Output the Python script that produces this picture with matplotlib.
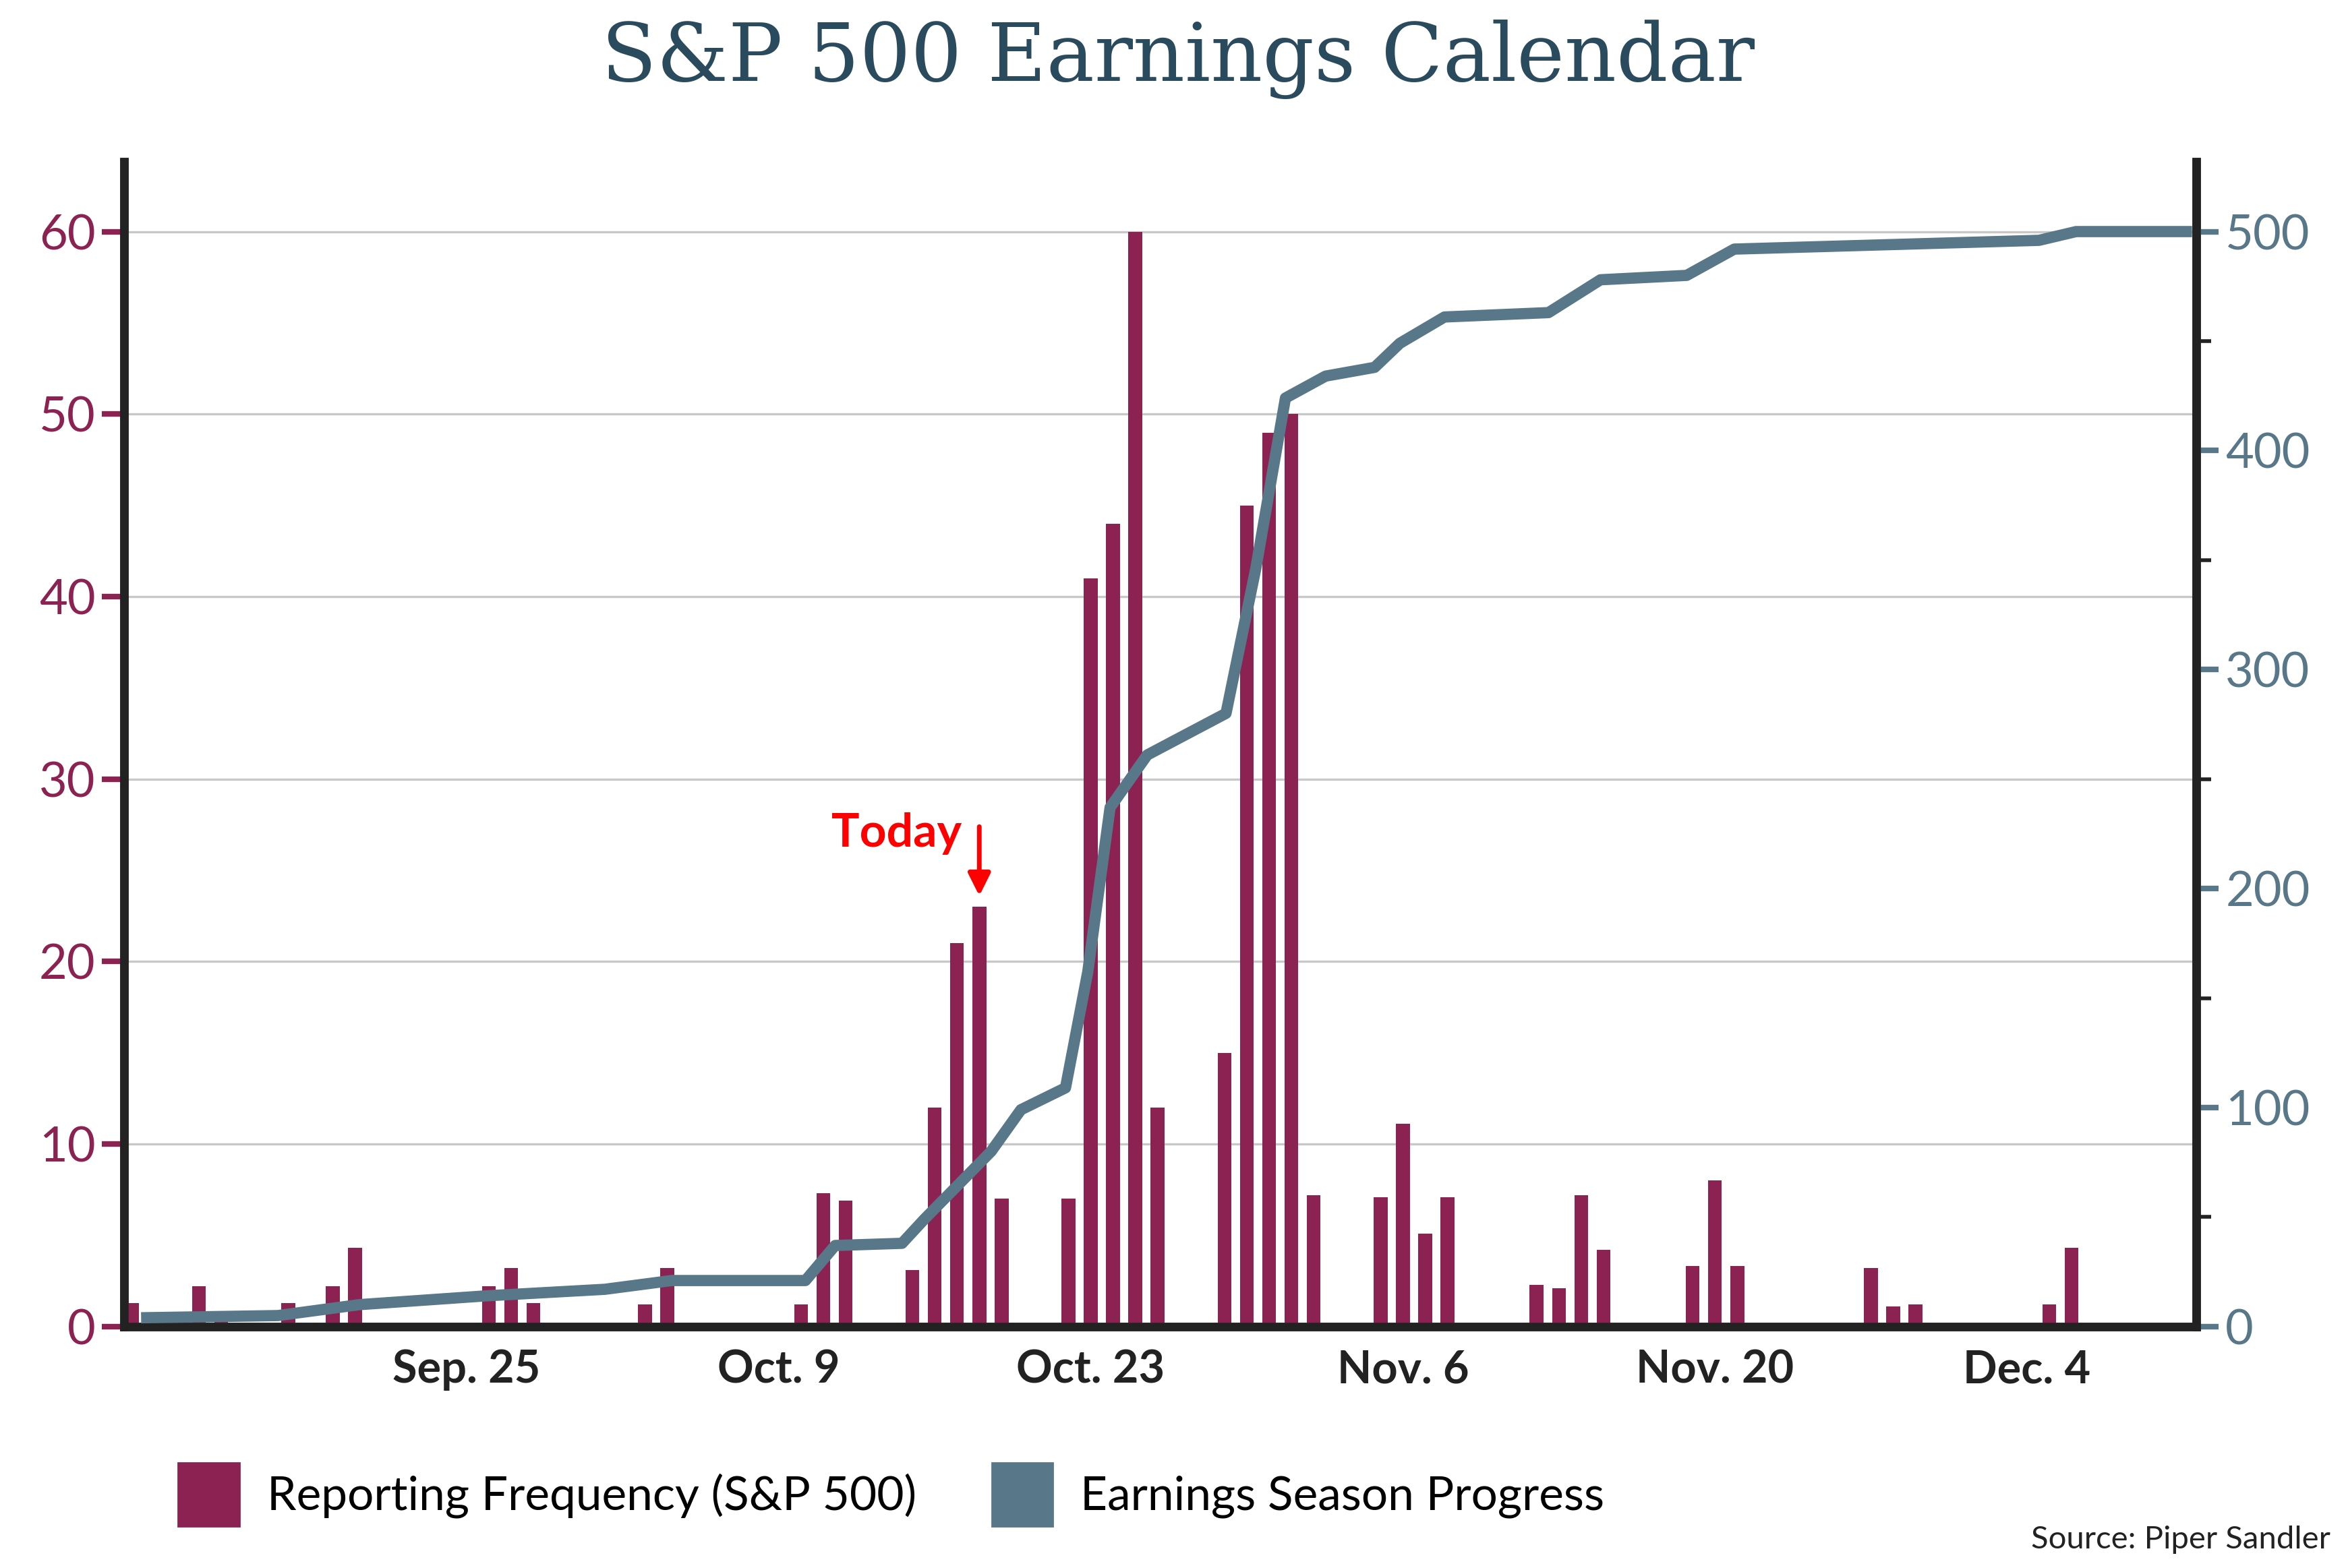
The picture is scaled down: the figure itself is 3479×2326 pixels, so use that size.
import matplotlib
matplotlib.use("Agg")
import matplotlib.pyplot as plt
import matplotlib.patches as mpatches
import pandas as pd

bar_dates = ["2023-09-10","2023-09-13","2023-09-14","2023-09-17","2023-09-19","2023-09-20",
             "2023-09-26","2023-09-27","2023-09-28","2023-10-03","2023-10-04",
             "2023-10-10","2023-10-11","2023-10-12","2023-10-15","2023-10-16","2023-10-17",
             "2023-10-18","2023-10-19","2023-10-22","2023-10-23","2023-10-24","2023-10-25",
             "2023-10-26","2023-10-29","2023-10-30","2023-10-31","2023-11-01","2023-11-02",
             "2023-11-05","2023-11-06","2023-11-07","2023-11-08","2023-11-12","2023-11-13",
             "2023-11-14","2023-11-15","2023-11-19","2023-11-20","2023-11-21","2023-11-27",
             "2023-11-28","2023-11-29","2023-12-05","2023-12-06"]
bar_values = [1.3,2.2,0.8,1.3,2.2,4.3,2.2,3.2,1.3,1.2,3.2,1.2,7.3,6.9,3.1,12,21,23,7,7,41,44,60,12,
              15,45,49,50,7.2,7.1,11.1,5.1,7.1,2.3,2.1,7.2,4.2,3.3,8,3.3,3.2,1.1,1.2,1.2,4.3]

line_x_px = [85,177,232,317,397,442,532,552,597,612,657,677,707,722,737,762,815,835,855,882,
             915,932,962,1032,1067,1125,1157,1362,1387,1465]
line_values = [4,5,10,14,17,21,21,37,38,49,80,99,109,162,237,261,280,346,424,434,438,449,461,
               463,478,480,492,496,500,500]
tick_dates = ["2023-09-25","2023-10-09","2023-10-23","2023-11-06","2023-11-20","2023-12-04"]
tick_labels = ["Sep. 25","Oct. 9","Oct. 23","Nov. 6","Nov. 20","Dec. 4"]

ref = pd.Timestamp("2023-11-20")
line_dates = [ref + pd.Timedelta(days=(p - 1144) / 15.0) for p in line_x_px]

MAROON = "#8b2252"
BLUE = "#587789"
plt.rcParams["font.family"] = "Lato"

fig = plt.figure(figsize=(17.4, 11.63), dpi=200)
ax = fig.add_axes([0.053, 0.154, 0.883, 0.743])
ax2 = ax.twinx()

ax.bar(pd.to_datetime(bar_dates), bar_values, width=0.62, color=MAROON, zorder=3)
ax2.plot(line_dates, line_values, color=BLUE, lw=6, solid_capstyle="butt", zorder=4)

ax.set_xlim(pd.Timestamp("2023-09-10") - pd.Timedelta(days=0.35), pd.Timestamp("2023-12-11") + pd.Timedelta(days=0.6))
ax.set_ylim(0, 63.85)
ax2.set_ylim(0, 532)
ax.set_yticks(range(0, 61, 10))
ax2.set_yticks(range(0, 501, 100))
ax2.set_yticks(range(50, 501, 100), minor=True)
ax.grid(axis="y", color="#c8c8c8", lw=1.2, zorder=0)
ax.set_xticks(pd.to_datetime(tick_dates))
ax.set_xticklabels(tick_labels, fontsize=24, fontweight="bold", color="#222222")
ax.tick_params(axis="x", length=0, pad=12)
ax.tick_params(axis="y", labelsize=26, colors=MAROON, length=12, width=3)
ax2.tick_params(axis="y", labelsize=26, colors=BLUE, length=12, width=3)
ax2.tick_params(axis="y", which="minor", length=8, width=2, colors="#222222")
for a in (ax, ax2):
    a.spines["top"].set_visible(False)
    for s in ("left", "right", "bottom"):
        a.spines[s].set_linewidth(4.5)
        a.spines[s].set_color("#222222")
for t in list(ax2.get_yticklines()) + list(ax.get_yticklines()):
    t.set_color("#222222")

ax2.annotate("", xy=(pd.Timestamp("2023-10-18"), 23.4 * 532 / 63.85),
             xytext=(pd.Timestamp("2023-10-18"), 27.6 * 532 / 63.85),
             arrowprops=dict(arrowstyle="-|>", color="red", lw=2.5, mutation_scale=25), zorder=5)
ax2.text(pd.Timestamp("2023-10-17") + pd.Timedelta(days=0.2), 27.0 * 532 / 63.85, "Today", color="red",
         fontsize=25, fontweight="bold", ha="right", va="center", zorder=5)

fig.text(0.502, 0.962, "S&P 500 Earnings Calendar", ha="center", va="center",
         fontsize=43, family="DejaVu Serif", color="#2a4a5e")
handles = [mpatches.Patch(color=MAROON, label="Reporting Frequency (S&P 500)"),
           mpatches.Patch(color=BLUE, label="Earnings Season Progress")]
fig.legend(handles=handles, loc="center left", bbox_to_anchor=(0.058, 0.047), ncol=2,
           frameon=False, fontsize=25, handlelength=1.3, handleheight=1.7, columnspacing=1.6,
           handletextpad=0.6)
fig.text(0.993, 0.018, "Source: Piper Sandler", ha="right", va="center", fontsize=17, color="#222222")
fig.savefig("out.png", dpi=200)
